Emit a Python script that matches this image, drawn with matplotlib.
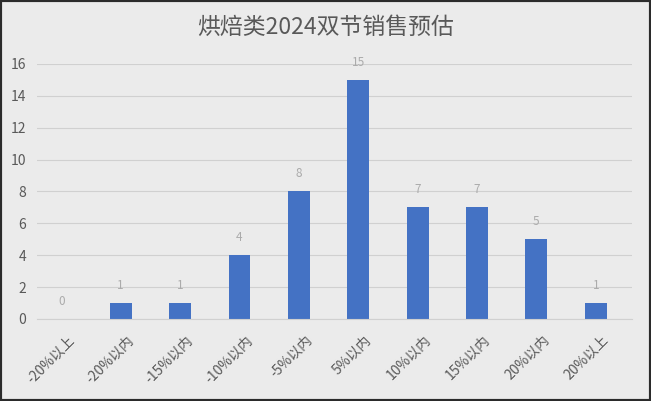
import matplotlib
matplotlib.use('Agg')
import matplotlib.pyplot as plt
from matplotlib.patches import Rectangle
from matplotlib.transforms import ScaledTranslation

plt.rcParams['font.family'] = ['Noto Sans CJK SC', 'DejaVu Sans']

TITLE = '烘焙类2024双节销售预估'
categories = ['-20%以上', '-20%以内', '-15%以内', '-10%以内', '-5%以内',
              '5%以内', '10%以内', '15%以内', '20%以内', '20%以上']
values = [0, 1, 1, 4, 8, 15, 7, 7, 5, 1]
y_ticks = [0, 2, 4, 6, 8, 10, 12, 14, 16]

BG = '#ebebeb'
BAR = '#4472c4'
TEXT = '#595959'
LABEL = '#ababab'
GRID = '#d0d0d0'

fig = plt.figure(figsize=(6.51, 4.01), dpi=100, facecolor=BG)
ax = fig.add_axes([37 / 651, 0.2045, 595 / 651, 0.636])
ax.set_facecolor(BG)

x = list(range(len(categories)))
ax.bar(x, values, width=0.37, color=BAR, zorder=3)
for xi, v in zip(x, values):
    ax.annotate(str(v), (xi, v), xytext=(0, 8), textcoords='offset points',
                ha='center', va='bottom', fontsize=8.5, color=LABEL)

ax.set_xlim(-0.41, 9.61)
ax.set_ylim(0, 16)
ax.set_yticks(y_ticks)
ax.yaxis.grid(True, color=GRID, linewidth=0.8, zorder=0)
ax.set_xticks(x)
ax.set_xticklabels(categories, rotation=45, ha='right', rotation_mode='anchor')
ax.tick_params(axis='both', length=0, colors=TEXT, labelsize=10)
ax.tick_params(axis='x', pad=10)
ax.tick_params(axis='y', pad=8)
# nudge the rotated labels right, like the original
shift = ScaledTranslation(6 / 100, 0, fig.dpi_scale_trans)
for lbl in ax.get_xticklabels():
    lbl.set_transform(lbl.get_transform() + shift)
for side in ['top', 'right', 'left']:
    ax.spines[side].set_visible(False)
ax.spines['bottom'].set_color(GRID)
ax.spines['bottom'].set_zorder(4)

fig.text(0.5, 1 - 27.5 / 401, TITLE, ha='center', va='center', fontsize=16.5, color=TEXT)

fig.patches.append(Rectangle((0, 0), 1, 1, transform=fig.transFigure,
                             fill=False, edgecolor='#2b2b2b', linewidth=3))

fig.savefig('out.png', dpi=100, facecolor=BG)
